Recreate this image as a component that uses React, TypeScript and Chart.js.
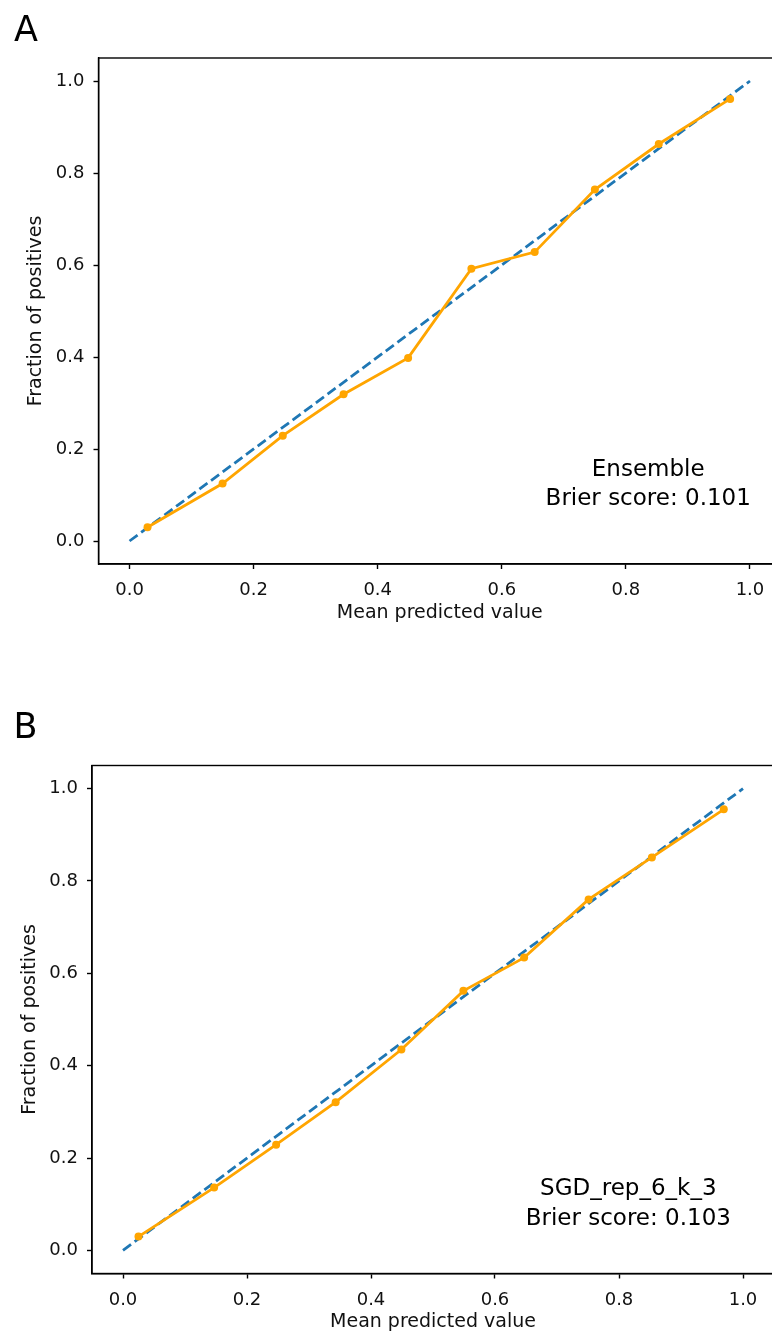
import React, { useEffect, useRef } from "react";
import { Chart, registerables } from "chart.js";

Chart.register(...registerables);

// ---------- data ----------
const TICK_VALUES = [0, 0.2, 0.4, 0.6, 0.8, 1.0];
const TICK_LABELS = ["0.0", "0.2", "0.4", "0.6", "0.8", "1.0"];

const DIAG_X = [0, 1];
const DIAG_Y = [0, 1];

const A_MEAN_PRED = [0.029, 0.15, 0.247, 0.345, 0.449, 0.551, 0.653, 0.75, 0.853, 0.968];
const A_FRAC_POS = [0.03, 0.125, 0.229, 0.319, 0.398, 0.592, 0.628, 0.764, 0.863, 0.961];

const B_MEAN_PRED = [0.025, 0.147, 0.247, 0.343, 0.449, 0.549, 0.647, 0.751, 0.853, 0.969];
const B_FRAC_POS = [0.03, 0.136, 0.229, 0.321, 0.435, 0.562, 0.634, 0.76, 0.851, 0.955];

const A_LETTER = "A";
const A_MODEL = "Ensemble";
const A_BRIER = "0.101";

const B_LETTER = "B";
const B_MODEL = "SGD_rep_6_k_3";
const B_BRIER = "0.103";

const X_TITLE = "Mean predicted value";
const Y_TITLE = "Fraction of positives";

const FONT = '"DejaVu Sans", "Liberation Sans", sans-serif';

type PanelProps = {
  letter: string;
  model: string;
  brier: string;
  xs: number[];
  ys: number[];
  top: number;
  layoutTop: number;
  layoutRight: number;
  layoutBottom: number;
  yAxisWidth: number;
  yTitlePad: number;
  letterX: number;
  letterY: number;
  textX: number;
  textY: number;
  lineGap: number;
};

const CANVAS_W = 800;
const CANVAS_H = 650;

function Panel(p: PanelProps) {
  const ref = useRef<HTMLCanvasElement | null>(null);

  useEffect(() => {
    if (!ref.current) return;
    const decor = {
      id: "panelDecor",
      afterDraw(chart: any) {
        const { ctx, chartArea, scales } = chart;
        const { left, top, right, bottom } = chartArea;
        ctx.save();
        ctx.strokeStyle = "#000";
        ctx.lineWidth = 1.4;
        ctx.strokeRect(left, top, right - left, bottom - top);
        ctx.fillStyle = "#000";
        ctx.font = `35px ${FONT}`;
        ctx.textAlign = "left";
        ctx.textBaseline = "alphabetic";
        ctx.fillText(p.letter, p.letterX, p.letterY);
        ctx.font = `23px ${FONT}`;
        ctx.textAlign = "center";
        const cx = scales.x.getPixelForValue(p.textX);
        const by = scales.y.getPixelForValue(p.textY);
        ctx.fillText(p.model, cx, by - p.lineGap);
        ctx.fillText(`Brier score: ${p.brier}`, cx, by);
        ctx.restore();
      },
    };

    const axisCommon = (title: string, pad: any) => ({
      type: "linear" as const,
      min: -0.05,
      max: 1.05,
      afterBuildTicks: (s: any) => {
        s.ticks = TICK_VALUES.map((v) => ({ value: v }));
      },
      ticks: {
        callback: (_v: any, i: number) => TICK_LABELS[i] ?? "",
        font: { size: 18, family: FONT },
        color: "#111",
        maxRotation: 0,
        autoSkip: false,
      },
      grid: {
        display: true,
        drawOnChartArea: false,
        drawTicks: true,
        tickLength: 5,
        tickColor: "#000",
        tickWidth: 1.4,
      },
      border: { display: true, color: "#000", width: 1.4 },
      title: {
        display: true,
        text: title,
        font: { size: 19, family: FONT },
        color: "#111",
        padding: pad,
      },
    });

    const xAxis: any = axisCommon(X_TITLE, { top: 0, bottom: 0 });
    xAxis.ticks.padding = 11;
    xAxis.afterFit = (s: any) => {
      s.height = 60;
    };
    const yAxis: any = axisCommon(Y_TITLE, { top: p.yTitlePad, bottom: 0 });
    yAxis.ticks.padding = 9;
    yAxis.afterFit = (s: any) => {
      s.width = p.yAxisWidth;
    };

    const chart = new Chart(ref.current, {
      type: "scatter",
      data: {
        datasets: [
          {
            data: p.xs.map((x, i) => ({ x, y: p.ys[i] })),
            showLine: true,
            borderColor: "#FFA500",
            backgroundColor: "#FFA500",
            borderWidth: 2.8,
            pointRadius: 4,
            pointBorderWidth: 0,
            order: 0,
          },
          {
            data: DIAG_X.map((x, i) => ({ x, y: DIAG_Y[i] })),
            showLine: true,
            borderColor: "#1f77b4",
            backgroundColor: "#1f77b4",
            borderWidth: 2.8,
            borderDash: [10, 4.5],
            pointRadius: 0,
            order: 1,
          },
        ],
      },
      options: {
        animation: false,
        responsive: false,
        maintainAspectRatio: false,
        devicePixelRatio: 1,
        layout: {
          padding: { top: p.layoutTop, right: p.layoutRight, bottom: p.layoutBottom, left: 0 },
        },
        plugins: {
          legend: { display: false },
          tooltip: { enabled: false },
        },
        scales: { x: xAxis, y: yAxis },
      } as any,
      plugins: [decor],
    });
    return () => chart.destroy();
  }, []);

  return (
    <canvas
      ref={ref}
      width={CANVAS_W}
      height={CANVAS_H}
      style={{ position: "absolute", left: 0, top: p.top, width: CANVAS_W, height: CANVAS_H, display: "block" }}
    />
  );
}

export default function App() {
  return (
    <div
      style={{
        position: "absolute",
        left: 0,
        top: 0,
        width: 772,
        height: 1333,
        overflow: "hidden",
        background: "#fff",
      }}
    >
      <Panel
        letter={A_LETTER}
        model={A_MODEL}
        brier={A_BRIER}
        xs={A_MEAN_PRED}
        ys={A_FRAC_POS}
        top={0}
        layoutTop={58}
        layoutRight={19}
        layoutBottom={26}
        yAxisWidth={98.5}
        yTitlePad={25}
        letterX={14}
        letterY={41}
        textX={0.836}
        textY={0.078}
        lineGap={29}
      />
      <Panel
        letter={B_LETTER}
        model={B_MODEL}
        brier={B_BRIER}
        xs={B_MEAN_PRED}
        ys={B_FRAC_POS}
        top={690}
        layoutTop={75.5}
        layoutRight={26}
        layoutBottom={6.5}
        yAxisWidth={92}
        yTitlePad={19}
        letterX={13.5}
        letterY={48}
        textX={0.815}
        textY={0.054}
        lineGap={30}
      />
    </div>
  );
}
